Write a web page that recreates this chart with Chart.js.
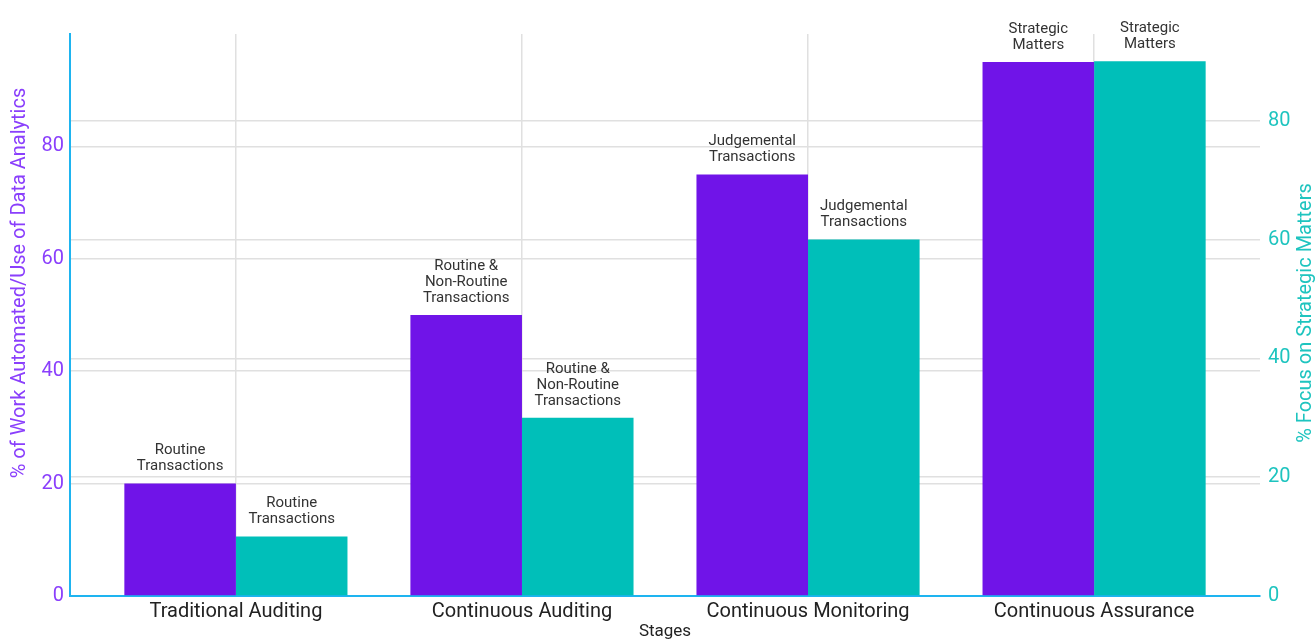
<!DOCTYPE html>
<html>
<head>
<meta charset="utf-8">
<script src="https://cdn.jsdelivr.net/npm/chart.js@4"></script>
<style>
    html, body { margin: 0; padding: 0; background: #fff; }
    #wrap { width: 1315px; height: 642px; }
</style>
</head>
<body>
<div id="wrap"><canvas id="chart"></canvas></div>
<script>
/* ========== Data ========== */

const stages = ['Traditional Auditing', 'Continuous Auditing', 'Continuous Monitoring', 'Continuous Assurance'];
const automatedValues = [20, 50, 75, 95];
const focusValues = [10, 30, 60, 90];
const automatedLabels = [
    ['Routine', 'Transactions'],
    ['Routine &', 'Non-Routine', 'Transactions'],
    ['Judgemental', 'Transactions'],
    ['Strategic', 'Matters'],
];
const focusLabels = [
    ['Routine', 'Transactions'],
    ['Routine &', 'Non-Routine', 'Transactions'],
    ['Judgemental', 'Transactions'],
    ['Strategic', 'Matters'],
];
const yTicks = [0, 20, 40, 60, 80];

const palette = {
    purple: '#7014e8',
    purpleText: '#8a3ffc',
    teal: '#00bfb9',
    tealText: '#1ec4bf',
    axis: '#1eb4f0',
    grid: '#e0e0e0',
    text: '#222222',
};

const FONT = 'Roboto, "Liberation Sans", sans-serif';
const leftTitle = '% of Work Automated/Use of Data Analytics';
const rightTitle = '% Focus on Strategic Matters';

/* text above each bar + both y titles (read bottom to top) */
const barLabels = {
    id: 'barLabels',
    afterDatasetsDraw(chart) {
        const ctx = chart.ctx;
        const sets = [automatedLabels, focusLabels];
        ctx.save();
        ctx.font = '15px ' + FONT;
        ctx.fillStyle = '#333';
        ctx.textAlign = 'center';
        ctx.textBaseline = 'middle';
        chart.data.datasets.forEach((ds, di) => {
            chart.getDatasetMeta(di).data.forEach((el, i) => {
                const lines = sets[di][i];
                lines.forEach((line, li) => {
                    const y = el.y - 17 - (lines.length - 1 - li) * 16;
                    ctx.fillText(line, el.x, y);
                });
            });
        });

        ctx.font = '20px ' + FONT;
        ctx.fillStyle = palette.purpleText;
        ctx.translate(20, 283);
        ctx.rotate(-Math.PI / 2);
        ctx.fillText(leftTitle, 0, 0);
        ctx.setTransform(1, 0, 0, 1, 0, 0);
        ctx.fillStyle = palette.tealText;
        ctx.translate(1306, 313);
        ctx.rotate(-Math.PI / 2);
        ctx.fillText(rightTitle, 0, 0);
        ctx.restore();
    },
};

const onlyTicks = axis => {
    axis.ticks = axis.ticks.filter(t => yTicks.includes(t.value));
};

new Chart(document.getElementById('chart'), {
    type: 'bar',
    data: {
        datasets: [
            {
                label: leftTitle,
                data: automatedValues.map((v, i) => ({ x: i, y: v })),
                backgroundColor: palette.purple,
                yAxisID: 'y',
                categoryPercentage: 0.78,
                barPercentage: 1.0,
            },
            {
                label: rightTitle,
                data: focusValues.map((v, i) => ({ x: i, y: v })),
                backgroundColor: palette.teal,
                yAxisID: 'y1',
                categoryPercentage: 0.78,
                barPercentage: 1.0,
            },
        ],
    },
    plugins: [barLabels],
    options: {
        responsive: true,
        maintainAspectRatio: false,
        animation: false,
        layout: { padding: { top: 34, left: 0, right: 0, bottom: 0 } },
        plugins: {
            legend: { display: false },
            tooltip: { enabled: false },
        },
        scales: {
            x: {
                type: 'linear',
                min: -0.58,
                max: 3.58,
                offset: false,
                afterBuildTicks: axis => {
                    axis.ticks = stages.map((s, i) => ({ value: i }));
                },
                afterFit: axis => { axis.height = 46; },
                ticks: {
                    callback: v => stages[v] ?? '',
                    color: palette.text,
                    font: { family: FONT, size: 20 },
                    padding: 4,
                    maxRotation: 0,
                    autoSkip: false,
                },
                grid: { color: palette.grid, lineWidth: 1.5, drawTicks: false, offset: false },
                border: { color: palette.axis, width: 2 },
                title: {
                    display: true,
                    text: 'Stages',
                    color: palette.text,
                    font: { family: FONT, size: 17 },
                    padding: { top: 2, bottom: 0 },
                },
            },
            y: {
                position: 'left',
                min: 0,
                max: 100,
                afterBuildTicks: onlyTicks,
                afterFit: axis => { axis.width = 70; },
                ticks: {
                    stepSize: 20,
                    color: palette.purpleText,
                    font: { family: FONT, size: 20 },
                    padding: 6,
                },
                grid: { color: palette.grid, lineWidth: 1.5, drawTicks: false },
                border: { color: palette.axis, width: 2 },
            },
            y1: {
                position: 'right',
                min: 0,
                max: 94.6,
                afterBuildTicks: onlyTicks,
                afterFit: axis => { axis.width = 55; },
                ticks: {
                    stepSize: 20,
                    color: palette.tealText,
                    font: { family: FONT, size: 20 },
                    padding: 8,
                },
                grid: { color: palette.grid, lineWidth: 1.5, drawTicks: false },
                border: { display: false },
            },
        },
    },
});
</script>
</body>
</html>
